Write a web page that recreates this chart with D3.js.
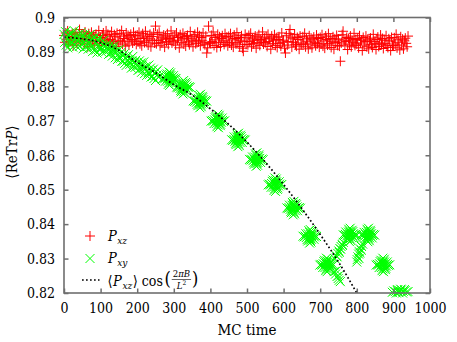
<!DOCTYPE html>
<html><head><meta charset="utf-8">
<script src="https://cdn.jsdelivr.net/npm/d3@7"></script>
<style>
body{margin:0;background:#fff}
svg{display:block}
text{font-family:"DejaVu Serif Condensed","DejaVu Serif",serif;font-stretch:condensed;fill:#000}
</style>
</head><body>
<svg id="chart" width="457" height="342"></svg>
<script>
// ---------- data ----------
const xTicks = [0,100,200,300,400,500,600,700,800,900,1000];
const xTickLabels = ["0","100","200","300","400","500","600","700","800","900","1000"];
const yTicks = [0.82,0.83,0.84,0.85,0.86,0.87,0.88,0.89,0.9];
const yTickLabels = ["0.82","0.83","0.84","0.85","0.86","0.87","0.88","0.89","0.9"];

// P_xz : one sample every 2.5 MC steps, starting at 0
const redStart = 0, redStep = 2.5;
const redV = [
.8948,.8928,.8955,.8937,.8961,.8922,.8945,.8931,.8941,.8953,.8918,.8950,.8934,.8957,.8926,.8943,.8939,.8965,.8930,.8947,
.8934,.8950,.8923,.8958,.8937,.8945,.8915,.8953,.8931,.8941,.8957,.8926,.8948,.8920,.8943,.8951,.8932,.8924,.8962,.8935,
.8942,.8919,.8948,.8955,.8928,.8938,.8961,.8933,.8951,.8922,.8946,.8936,.8959,.8930,.8925,.8950,.8944,.8916,.8954,.8931,
.8929,.8952,.8934,.8962,.8923,.8946,.8939,.8917,.8955,.8931,.8948,.8920,.8943,.8951,.8936,.8926,.8957,.8932,.8947,.8922,
.8949,.8930,.8957,.8924,.8939,.8918,.8953,.8943,.8927,.8960,.8932,.8946,.8920,.8938,.8951,.8915,.8945,.8934,.8955,.8926,
.8975,.8924,.8951,.8933,.8957,.8918,.8941,.8927,.8937,.8949,.8914,.8946,.8930,.8953,.8922,.8939,.8935,.8961,.8926,.8943,
.8931,.8947,.8920,.8955,.8934,.8942,.8912,.8950,.8928,.8938,.8954,.8923,.8945,.8917,.8940,.8948,.8929,.8921,.8959,.8932,
.8938,.8915,.8944,.8951,.8924,.8934,.8957,.8929,.8947,.8918,.8942,.8932,.8955,.8926,.8921,.8946,.8897,.8912,.8975,.8927,
.8925,.8948,.8930,.8958,.8919,.8942,.8935,.8913,.8951,.8927,.8944,.8916,.8939,.8947,.8932,.8922,.8953,.8928,.8943,.8918,
.8945,.8926,.8953,.8920,.8935,.8914,.8949,.8939,.8923,.8956,.8928,.8942,.8916,.8934,.8947,.8911,.8902,.8930,.8951,.8922,
.8941,.8921,.8948,.8930,.8954,.8915,.8938,.8924,.8934,.8946,.8911,.8943,.8927,.8950,.8919,.8936,.8932,.8958,.8923,.8940,
.8927,.8943,.8916,.8951,.8930,.8938,.8908,.8946,.8924,.8934,.8950,.8919,.8941,.8913,.8936,.8944,.8925,.8917,.8955,.8928,
.8934,.8911,.8897,.8947,.8920,.8930,.8953,.8965,.8943,.8914,.8938,.8928,.8951,.8922,.8917,.8942,.8936,.8908,.8946,.8923,
.8921,.8944,.8926,.8954,.8915,.8938,.8931,.8909,.8947,.8923,.8940,.8912,.8935,.8943,.8928,.8918,.8949,.8924,.8939,.8914,
.8942,.8923,.8950,.8917,.8932,.8911,.8946,.8936,.8920,.8953,.8925,.8939,.8913,.8931,.8944,.8908,.8938,.8927,.8948,.8919,
.8937,.8917,.8873,.8926,.8950,.8960,.8934,.8920,.8930,.8942,.8907,.8939,.8923,.8946,.8915,.8932,.8928,.8954,.8919,.8936,
.8923,.8939,.8912,.8947,.8926,.8934,.8904,.8942,.8920,.8930,.8946,.8915,.8937,.8909,.8932,.8940,.8921,.8913,.8951,.8924,
.8930,.8907,.8936,.8943,.8916,.8926,.8949,.8921,.8939,.8910,.8934,.8924,.8947,.8918,.8913,.8938,.8932,.8904,.8942,.8919,
.8918,.8941,.8923,.8951,.8912,.8935,.8928,.8906,.8944,.8920,.8937,.8909,.8932,.8940,.8925,.8915,.8946
];

// P_xy, early part: one sample every 2 MC steps from 0 to 260
const greenEarlyStart = 0, greenEarlyStep = 2;
const greenEarlyV = [
.8951,.8928,.8959,.8920,.8942,.8912,.8948,.8934,.8955,.8925,
.8929,.8954,.8914,.8943,.8962,.8921,.8937,.8916,.8947,.8934,
.8941,.8916,.8936,.8956,.8922,.8947,.8909,.8939,.8927,.8952,
.8915,.8934,.8945,.8908,.8929,.8920,.8951,.8913,.8938,.8901,
.8936,.8913,.8944,.8905,.8927,.8897,.8933,.8919,.8940,.8910,
.8910,.8927,.8899,.8920,.8933,.8904,.8915,.8901,.8922,.8913,
.8910,.8893,.8907,.8921,.8897,.8915,.8888,.8909,.8900,.8918,
.8883,.8896,.8904,.8878,.8893,.8886,.8908,.8881,.8899,.8873,
.8889,.8873,.8894,.8867,.8883,.8861,.8887,.8877,.8892,.8871,
.8864,.8881,.8853,.8874,.8887,.8858,.8869,.8855,.8876,.8867,
.8863,.8846,.8860,.8874,.8850,.8868,.8841,.8862,.8853,.8871,
.8837,.8850,.8858,.8832,.8847,.8840,.8862,.8835,.8853,.8827,
.8845,.8829,.8850,.8823,.8839,.8817,.8843,.8833,.8848,.8827,
.8828
];

// P_xy, later part: [MC time, value]
const greenLate = [
[288,.8823],[285,.8827],[292,.8820],[282,.8822],[294,.8825],[287,.8830],[290,.8817],[278,.8826],[297,.8819],[283,.8815],[292,.8831],[275,.8822],[300,.8824],[287,.8811],[289,.8834],[280,.8832],[295,.8813],[272,.8824],[303,.8821],[285,.8806],[291,.8839],[277,.8815],[299,.8831],[282,.8836],[294,.8809],[269,.8822],[306,.8823],[289,.8803],[287,.8842],[288,.8825],
[326,.8798],[329,.8802],[322,.8795],[332,.8797],[320,.8800],[327,.8805],[324,.8792],[336,.8801],[317,.8794],[331,.8790],[322,.8806],[339,.8797],[314,.8799],[327,.8786],[325,.8809],[334,.8807],[319,.8788],[342,.8799],[311,.8796],[329,.8781],[323,.8814],[337,.8790],[315,.8806],[332,.8811],[320,.8784],[345,.8797],[308,.8798],[325,.8778],[327,.8817],[326,.8800],
[372,.8757],[369,.8753],[376,.8760],[366,.8758],[378,.8755],[371,.8750],[374,.8763],[362,.8754],[381,.8761],[367,.8765],[376,.8749],[359,.8758],[384,.8756],[371,.8769],[373,.8746],[364,.8748],[379,.8767],[356,.8756],[387,.8759],[369,.8774],[375,.8741],[361,.8765],[383,.8749],[366,.8744],[378,.8771],[353,.8758],[390,.8757],[373,.8777],[371,.8738],[372,.8755],
[421,.8700],[418,.8704],[425,.8697],[415,.8699],[427,.8702],[420,.8707],[423,.8694],[411,.8703],[430,.8696],[416,.8692],[425,.8708],[408,.8699],[433,.8701],[420,.8688],[422,.8711],[413,.8709],[428,.8690],[405,.8701],[436,.8698],[418,.8683],[424,.8716],[410,.8692],[432,.8708],[415,.8713],[427,.8686],[402,.8699],[439,.8700],[422,.8680],[420,.8719],[421,.8702],
[476,.8645],[479,.8649],[472,.8642],[482,.8644],[470,.8647],[477,.8652],[474,.8639],[486,.8648],[467,.8641],[481,.8637],[472,.8653],[489,.8644],[464,.8646],[477,.8633],[475,.8656],[484,.8654],[469,.8635],[492,.8646],[461,.8643],[479,.8628],[473,.8661],[487,.8637],[465,.8653],[482,.8658],[470,.8631],[495,.8644],[458,.8645],[475,.8625],[477,.8664],[476,.8647],
[526,.8587],[523,.8583],[530,.8590],[520,.8588],[532,.8585],[525,.8580],[528,.8593],[516,.8584],[535,.8591],[521,.8595],[530,.8579],[513,.8588],[538,.8586],[525,.8599],[527,.8576],[518,.8578],[533,.8597],[510,.8586],[541,.8589],[523,.8604],[529,.8571],[515,.8595],[537,.8579],[520,.8574],[532,.8601],[507,.8588],[544,.8587],[527,.8607],[525,.8568],[526,.8585],
[577,.8515],[574,.8519],[581,.8512],[571,.8514],[583,.8517],[576,.8522],[579,.8509],[567,.8518],[586,.8511],[572,.8507],[581,.8523],[564,.8514],[589,.8516],[576,.8503],[578,.8526],[569,.8524],[584,.8505],[561,.8516],[592,.8513],[574,.8498],[580,.8531],[566,.8507],[588,.8523],[571,.8528],[583,.8501],[558,.8514],[595,.8515],[578,.8495],[576,.8534],[577,.8517],
[627,.8447],[630,.8451],[623,.8444],[633,.8446],[621,.8449],[628,.8454],[625,.8441],[637,.8450],[618,.8443],[632,.8439],[623,.8455],[640,.8446],[615,.8448],[628,.8435],[626,.8458],[635,.8456],[620,.8437],[643,.8448],[612,.8445],[630,.8430],[624,.8463],[638,.8439],[616,.8455],[633,.8460],[621,.8433],[646,.8446],[609,.8447],[626,.8427],[628,.8466],[627,.8449],
[672,.8364],[669,.8360],[676,.8367],[666,.8365],[678,.8362],[671,.8357],[674,.8370],[662,.8361],[681,.8368],[667,.8372],[676,.8356],[659,.8365],[684,.8363],[671,.8376],[673,.8353],[664,.8355],[679,.8374],[656,.8363],[687,.8366],[669,.8381],[675,.8348],[661,.8372],[683,.8356],[666,.8351],[678,.8378],[653,.8365],[690,.8364],[673,.8384],[671,.8345],[672,.8362],
[718,.8282],[715,.8286],[722,.8279],[712,.8281],[724,.8284],[717,.8289],[720,.8276],[708,.8285],[727,.8278],[713,.8274],[722,.8290],[705,.8281],[730,.8283],[717,.8270],[719,.8293],[710,.8291],[725,.8272],[702,.8283],[733,.8280],[715,.8265],[721,.8298],[707,.8274],[729,.8290],[712,.8295],[724,.8268],[699,.8281],[736,.8282],[719,.8262],[717,.8301],[718,.8284],
[738,.8262],[742,.8255],[746,.8248],[749,.8242],[752,.8237],[755,.8233],[744,.8265],[750,.8250],
[740,.8300],[744,.8308],[748,.8315],[751,.8322],[754,.8329],[757,.8335],[760,.8341],[763,.8347],[746,.8305],[752,.8318],[756,.8327],[761,.8338],
[781,.8369],[784,.8373],[777,.8366],[787,.8368],[775,.8371],[782,.8376],[779,.8363],[791,.8372],[772,.8365],[786,.8361],[777,.8377],[794,.8368],[769,.8370],[782,.8357],[780,.8380],[789,.8378],[774,.8359],[797,.8370],[766,.8367],[784,.8352],[778,.8385],[792,.8361],[770,.8377],[787,.8382],[775,.8355],[800,.8368],[763,.8369],[780,.8349],[782,.8388],[781,.8371],
[816,.8342],[813,.8335],[810,.8328],[807,.8320],[805,.8313],[803,.8305],[801,.8297],[800,.8290],[808,.8316],[812,.8324],[806,.8300],[811,.8338],
[831,.8368],[828,.8364],[835,.8371],[825,.8369],[837,.8366],[830,.8361],[833,.8374],[821,.8365],[840,.8372],[826,.8376],[835,.8360],[818,.8369],[843,.8367],[830,.8380],[832,.8357],[823,.8359],[838,.8378],[815,.8367],[846,.8370],[828,.8385],[834,.8352],[820,.8376],[842,.8360],[825,.8355],[837,.8382],[812,.8369],[849,.8368],[832,.8388],[830,.8349],[831,.8366],
[872,.8282],[869,.8286],[876,.8279],[866,.8281],[878,.8284],[871,.8289],[874,.8276],[862,.8285],[881,.8278],[867,.8274],[876,.8290],[859,.8281],[884,.8283],[871,.8270],[873,.8293],[864,.8291],[879,.8272],[856,.8283],[887,.8280],[869,.8265],[875,.8298],[861,.8274],[883,.8290],[866,.8295],[878,.8268],[853,.8281],[890,.8282],[873,.8262],[871,.8301],[872,.8284],
[918,.8206],[922,.8209],[913,.8203],[927,.8205],[910,.8208],[920,.8211],[915,.8201],[932,.8207],[905,.8204],[912,.8210],[936,.8203],[901,.8206],[925,.8200],[908,.8200],[930,.8210],[940,.8204],[897,.8202]
];

// <P_xz> cos(2 pi B / L^2)
const curveT = [0,50,100,150,200,250,300,350,400,450,500,550,600,650,700,750,800];
const curveV = [0.8943,0.8938,0.8927,0.8905,0.8870,0.8840,0.8805,0.8775,0.8735,0.8690,0.8638,0.8580,0.8515,0.8445,0.8370,0.8290,0.8200];

// ---------- chart ----------
const svg = d3.select("#chart");
const x = d3.scaleLinear().domain([0,1000]).range([64,430]);
const y = d3.scaleLinear().domain([0.82,0.9]).range([293,17.5]);
const axisColor = "#6e6e6e";

const plusPath = "M-5,0H5M0,-5V5";
const timesPath = "M-4.5,-4.5L4.5,4.5M-4.5,4.5L4.5,-4.5";

// series: P_xz
const redPts = redV.map((v,i)=>[redStart+i*redStep, v]);
svg.append("g").selectAll("path").data(redPts).join("path")
  .attr("transform", d=>`translate(${x(d[0])},${y(d[1])})`)
  .attr("d", plusPath).attr("stroke","#ff0000").attr("stroke-width",1).attr("fill","none");

// series: P_xy
const greenPts = greenEarlyV.map((v,i)=>[greenEarlyStart+i*greenEarlyStep, v]).concat(greenLate);
svg.append("g").selectAll("path").data(greenPts).join("path")
  .attr("transform", d=>`translate(${x(d[0])},${y(d[1])})`)
  .attr("d", timesPath).attr("stroke","#00ff00").attr("stroke-width",1).attr("fill","none");

// dotted curve
const line = d3.line().x(d=>x(d[0])).y(d=>y(d[1])).curve(d3.curveMonotoneX);
svg.append("path").datum(curveT.map((t,i)=>[t,curveV[i]]))
  .attr("d", line).attr("fill","none").attr("stroke","#000")
  .attr("stroke-width",1.7).attr("stroke-dasharray","1.7,2.3");

// axes (ticks inward)
const fmtX = (d,i)=>xTickLabels[i], fmtY=(d,i)=>yTickLabels[i];
const gB = svg.append("g").attr("transform","translate(0,293)")
  .call(d3.axisBottom(x).tickValues(xTicks).tickFormat(fmtX).tickSize(-4.5).tickPadding(10));
const gL = svg.append("g").attr("transform","translate(64,0)")
  .call(d3.axisLeft(y).tickValues(yTicks).tickFormat(fmtY).tickSize(-4.5).tickPadding(9));
const gT = svg.append("g").attr("transform","translate(0,17.5)")
  .call(d3.axisTop(x).tickValues(xTicks).tickFormat("").tickSize(-4.5));
const gR = svg.append("g").attr("transform","translate(430,0)")
  .call(d3.axisRight(y).tickValues(yTicks).tickFormat("").tickSize(-4.5));
[gB,gL,gT,gR].forEach(g=>{
  g.attr("font-family",null);
  g.select(".domain").remove();
  g.selectAll(".tick line").attr("stroke",axisColor).attr("stroke-width",1.5);
  g.selectAll(".tick text").attr("font-size",14).attr("fill","#000");
});
gL.selectAll(".tick text").attr("dy","0.34em");
gB.selectAll(".tick text").attr("dy","0.72em");

// frame
svg.append("rect").attr("x",x(0)).attr("y",y(0.9)).attr("width",x(1000)-x(0)).attr("height",y(0.82)-y(0.9))
  .attr("fill","none").attr("stroke",axisColor).attr("stroke-width",1.6);

// axis titles
svg.append("text").attr("x",247).attr("y",335).attr("text-anchor","middle").attr("font-size",15).text("MC time");
const yl = svg.append("text").attr("transform","translate(16.5,152) rotate(-90)").attr("text-anchor","middle").attr("font-size",15);
yl.append("tspan").text("\u27E8ReTr");
yl.append("tspan").attr("font-style","italic").text("P");
yl.append("tspan").text("\u27E9");

// legend
const lg = svg.append("g");
lg.append("path").attr("transform","translate(90,236)").attr("d",plusPath).attr("stroke","#ff0000").attr("fill","none");
lg.append("path").attr("transform","translate(90,258.5)").attr("d",timesPath).attr("stroke","#00ff00").attr("fill","none");
lg.append("line").attr("x1",82).attr("x2",99.5).attr("y1",280).attr("y2",280)
  .attr("stroke","#000").attr("stroke-width",1.7).attr("stroke-dasharray","1.7,2.3");

// sequential text layout helper: returns the new x after the piece
function piece(xp, yb, str, size, italic){
  const t = lg.append("text").attr("x",xp).attr("y",yb).attr("font-size",size).text(str);
  if (italic) t.attr("font-style","italic");
  return xp + t.node().getComputedTextLength();
}
function pSub(xp, yb, sub){
  let cx = piece(xp, yb, "P", 14.5, true);
  return piece(cx + 0.5, yb + 3, sub, 10, true);
}
pSub(108, 241, "xz");
pSub(108, 263, "xy");
// third entry: <P_xz> cos(2piB/L^2)
const yb3 = 285.5;
let cx = piece(107.5, yb3, "\u27E8", 14.5, false);
cx = pSub(cx + 0.5, yb3, "xz");
cx = piece(cx + 0.5, yb3, "\u27E9", 14.5, false);
cx = piece(cx + 4, yb3, "cos", 14, false);
cx = piece(cx + 1.5, yb3 - 1, "(", 18, false);
const fx0 = cx + 1;
const num = lg.append("text").attr("y",276.5).attr("font-size",9.5);
num.append("tspan").text("2");
num.append("tspan").attr("font-style","italic").text("\u03C0B");
const den = lg.append("text").attr("y",289).attr("font-size",9.5);
den.append("tspan").attr("font-style","italic").text("L");
den.append("tspan").attr("font-size",6.5).attr("dy",-4).text("2");
const fw = Math.max(num.node().getComputedTextLength(), den.node().getComputedTextLength()) + 2;
num.attr("x", fx0 + fw/2).attr("text-anchor","middle");
den.attr("x", fx0 + fw/2).attr("text-anchor","middle");
lg.append("line").attr("x1",fx0).attr("x2",fx0+fw).attr("y1",279.5).attr("y2",279.5).attr("stroke","#000").attr("stroke-width",0.6);
piece(fx0 + fw + 1, yb3 - 1, ")", 18, false);
</script>
</body></html>
